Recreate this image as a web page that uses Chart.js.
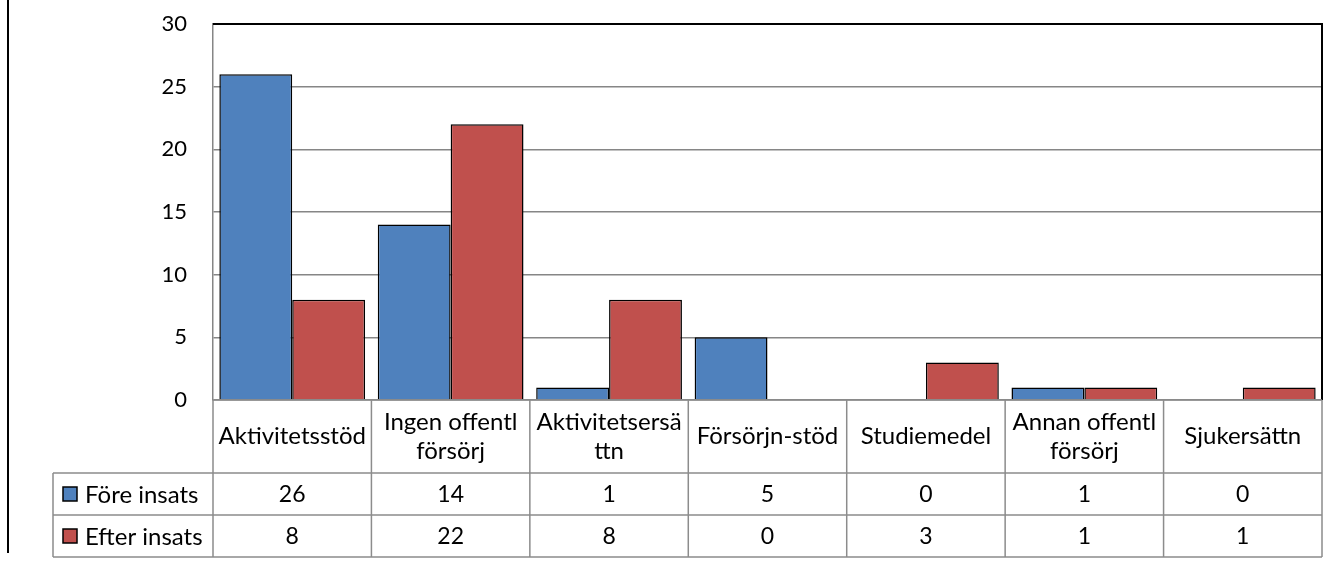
<!DOCTYPE html>
<html>
<head>
  <title>Före / Efter insats</title>
  <script src="https://cdn.jsdelivr.net/npm/chart.js"></script>
  <style>
    body { margin: 0; background: #fff; }
    #wrap { width: 1343px; height: 563px; }
  </style>
</head>
<body>
  <div id="wrap"><canvas id="myChart"></canvas></div>

  <script>
    // categories (lines of each table header cell)
    const categories = [
      ['Aktivitetsstöd'],
      ['Ingen offentl', 'försörj'],
      ['Aktivitetsersä', 'ttn'],
      ['Försörjn-stöd'],
      ['Studiemedel'],
      ['Annan offentl', 'försörj'],
      ['Sjukersättn']
    ];
    const seriesNames = ['Före insats', 'Efter insats'];
    const foreInsats = [26, 14, 1, 5, 0, 1, 0];
    const efterInsats = [8, 22, 8, 0, 3, 1, 1];
    const yTicks = [0, 5, 10, 15, 20, 25, 30];

    const blue = '#4F81BD';
    const red = '#C0504D';
    const tableGray = '#8C8C8C';
    const fontFamily = 'Lato, "Open Sans", sans-serif';

    // zero bars are not shown in the original
    const hideZero = arr => arr.map(v => v === 0 ? null : v);

    // draws the data table under the plot and the plot frame
    const dataTable = {
      id: 'dataTable',
      afterDraw(chart) {
        const ctx = chart.ctx;
        const x = chart.scales.x;
        const area = chart.chartArea;
        const n = categories.length;
        const colW = (area.right - area.left) / n;
        const headBottom = area.bottom + 73;
        const row1 = headBottom + 42;
        const row2 = row1 + 42;
        const legendLeft = 53;

        ctx.save();
        // chart frame line on the left
        ctx.strokeStyle = '#000';
        ctx.lineWidth = 2;
        ctx.beginPath();
        ctx.moveTo(8, 0);
        ctx.lineTo(8, 553);
        ctx.stroke();

        // plot border top and right
        ctx.beginPath();
        ctx.moveTo(area.left, area.top);
        ctx.lineTo(area.right, area.top);
        ctx.lineTo(area.right, area.bottom);
        ctx.stroke();

        // table grid
        ctx.strokeStyle = tableGray;
        ctx.lineWidth = 1.5;
        ctx.beginPath();
        ctx.moveTo(area.left, area.bottom);
        ctx.lineTo(area.right, area.bottom);
        for (let i = 0; i <= n; i++) {
          const gx = area.left + i * colW;
          ctx.moveTo(gx, area.bottom);
          ctx.lineTo(gx, row2);
        }
        [headBottom, row1, row2].forEach(y => {
          ctx.moveTo(legendLeft, y);
          ctx.lineTo(area.right, y);
        });
        ctx.moveTo(legendLeft, headBottom);
        ctx.lineTo(legendLeft, row2);
        ctx.stroke();

        // header text
        ctx.fillStyle = '#000';
        ctx.font = '24px ' + fontFamily;
        ctx.textAlign = 'center';
        ctx.textBaseline = 'middle';
        const headMid = (area.bottom + headBottom) / 2;
        categories.forEach((lines, i) => {
          const cx = x.getPixelForValue(i);
          const lh = 29;
          const start = headMid - (lines.length - 1) * lh / 2;
          lines.forEach((t, j) => ctx.fillText(t, cx, start + j * lh));
        });

        // value rows
        const rows = [foreInsats, efterInsats];
        const colors = [blue, red];
        rows.forEach((vals, r) => {
          const top = headBottom + r * 42;
          const mid = top + 21;
          ctx.font = '23px ' + fontFamily;
          vals.forEach((v, i) => ctx.fillText(String(v), x.getPixelForValue(i), mid + 1));
          // legend key
          ctx.fillStyle = colors[r];
          ctx.fillRect(63, mid - 7, 14, 14);
          ctx.strokeStyle = '#000';
          ctx.lineWidth = 1.5;
          ctx.strokeRect(63, mid - 7, 14, 14);
          ctx.fillStyle = '#000';
          ctx.textAlign = 'left';
          ctx.font = '24px ' + fontFamily;
          ctx.fillText(seriesNames[r], 85, mid + 1);
          ctx.textAlign = 'center';
        });
        ctx.restore();
      }
    };

    const ctx = document.getElementById('myChart').getContext('2d');
    const myChart = new Chart(ctx, {
      type: 'bar',
      data: {
        labels: categories.map(c => c.join(' ')),
        datasets: [
          {
            label: seriesNames[0],
            data: hideZero(foreInsats),
            backgroundColor: blue,
            borderColor: '#000',
            borderWidth: 1.5,
            borderSkipped: 'bottom'
          },
          {
            label: seriesNames[1],
            data: hideZero(efterInsats),
            backgroundColor: red,
            borderColor: '#000',
            borderWidth: 1.5,
            borderSkipped: 'bottom'
          }
        ]
      },
      options: {
        responsive: true,
        maintainAspectRatio: false,
        animation: false,
        categoryPercentage: 0.92,
        barPercentage: 1,
        layout: { padding: { left: 0, top: 24, right: 21, bottom: 163 } },
        plugins: {
          legend: { display: false },
          tooltip: { enabled: false }
        },
        scales: {
          x: {
            ticks: { display: false },
            grid: { display: false },
            border: { display: false },
            afterFit: axis => { axis.height = 0; }
          },
          y: {
            min: 0,
            max: 30,
            afterBuildTicks: axis => { axis.ticks = yTicks.map(v => ({ value: v })); },
            afterFit: axis => {
              axis.width = 213;
              // tick padding would otherwise push the plot top down
              axis.paddingTop = 0;
              axis.paddingBottom = 0;
            },
            ticks: {
              padding: 26,
              color: '#000',
              font: { family: fontFamily, size: 22 }
            },
            grid: { color: '#868686', lineWidth: 1.5, drawTicks: false },
            border: { color: '#868686', width: 1.5 }
          }
        }
      },
      plugins: [dataTable]
    });
  </script>
</body>
</html>
